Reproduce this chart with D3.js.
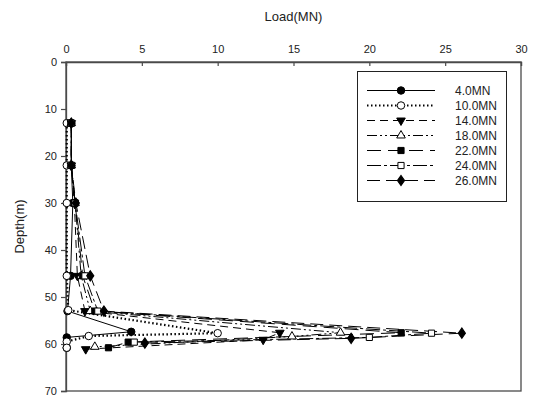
<!DOCTYPE html>
<html>
<head>
<meta charset="utf-8">
<script src="https://cdn.jsdelivr.net/npm/d3@7"></script>
<style>
  body { margin: 0; background: #fff; }
  svg { display: block; font-family: "Liberation Sans", Arial, sans-serif; }
</style>
</head>
<body>
<svg id="chart" width="537" height="397"></svg>
<script>
// Series names (legend labels)
const seriesNames = ['4.0MN', '10.0MN', '14.0MN', '18.0MN', '22.0MN', '24.0MN', '26.0MN'];

// Load values (MN) per series, paired with depths below
const load4  = [0.35, 0.35, 0.45, 0.3, 0.1, 4.3, 0.05, 0.05];
const depth4 = [13, 22, 30, 45.5, 53, 57.4, 58.6, 60.8];

const load10  = [0.05, 0.05, 0.05, 0.05, 0.15, 10.0, 1.5, 0.05, 0.05];
const depth10 = [13, 22, 30, 45.5, 52.8, 57.7, 58.3, 59.5, 60.8];

const load14  = [0.35, 0.35, 0.55, 0.75, 1.25, 14.1, 13.0, 1.3];
const depth14 = [13, 22, 30, 45.5, 53, 57.6, 59.1, 61.1];

const load18  = [0.35, 0.35, 0.6, 1.0, 1.6, 18.1, 14.9, 1.9];
const depth18 = [13, 22, 30, 45.5, 53, 57.6, 58.4, 60.6];

const load22  = [0.35, 0.35, 0.6, 1.1, 1.9, 22.1, 4.1, 2.8];
const depth22 = [13, 22, 30, 45.5, 53, 57.6, 59.6, 60.8];

const load24  = [0.35, 0.35, 0.6, 1.25, 2.1, 24.1, 20.0, 4.5];
const depth24 = [13, 22, 30, 45.5, 53, 57.7, 58.6, 59.6];

const load26  = [0.35, 0.35, 0.65, 1.6, 2.5, 26.1, 18.8, 5.2];
const depth26 = [13, 22, 30, 45.5, 53, 57.7, 58.8, 59.8];

const xTicks = [0, 5, 10, 15, 20, 25, 30];
const yTicks = [0, 10, 20, 30, 40, 50, 60, 70];

const loads = [load4, load10, load14, load18, load22, load24, load26];
const depths = [depth4, depth10, depth14, depth18, depth22, depth24, depth26];

const styles = [
  { dash: null,                 width: 1,   marker: 'circle',   fill: '#000' },
  { dash: '1.5,2.5',            width: 2.2, marker: 'circle',   fill: '#fff' },
  { dash: '8,5',                width: 1,   marker: 'triangleDown', fill: '#000' },
  { dash: '10,3,2,3,2,3',       width: 1,   marker: 'triangle', fill: '#fff' },
  { dash: '14,7',               width: 1,   marker: 'square',   fill: '#000' },
  { dash: '14,3,3,3',           width: 1,   marker: 'square',   fill: '#fff' },
  { dash: '13,6',               width: 1,   marker: 'diamond',  fill: '#000' }
];

const series = seriesNames.map((name, i) => ({
  name,
  style: styles[i],
  points: loads[i].map((v, j) => ({ load: v, depth: depths[i][j] }))
}));

const margin = { left: 66, right: 16, top: 62, bottom: 6 };
const width = 537, height = 397;
const svg = d3.select('#chart');

const xScale = d3.scaleLinear().domain([0, 30]).range([margin.left, width - margin.right]);
const yScale = d3.scaleLinear().domain([0, 70]).range([margin.top, height - margin.bottom]);

const axisColor = '#4a4a4a';

// frame
svg.append('rect')
  .attr('x', xScale(0)).attr('y', yScale(0))
  .attr('width', xScale(30) - xScale(0))
  .attr('height', yScale(70) - yScale(0))
  .attr('fill', 'none').attr('stroke', axisColor).attr('stroke-width', 1.3);

// top axis
const xAxis = svg.append('g')
  .attr('transform', `translate(0,${yScale(0)})`)
  .call(d3.axisTop(xScale).tickValues(xTicks).tickSize(-4).tickPadding(9).tickFormat(d3.format('d')));

// left axis
const yAxis = svg.append('g')
  .attr('transform', `translate(${xScale(0)},0)`)
  .call(d3.axisLeft(yScale).tickValues(yTicks).tickSize(5).tickPadding(4).tickFormat(d3.format('d')));

[xAxis, yAxis].forEach(g => {
  g.select('.domain').attr('stroke', axisColor).attr('stroke-width', 1.3);
  g.selectAll('.tick line').attr('stroke', axisColor).attr('stroke-width', 1.2);
  g.selectAll('.tick text').attr('fill', '#222').style('font-size', '11px');
});

svg.append('text')
  .attr('x', (xScale(0) + xScale(30)) / 2).attr('y', 21)
  .attr('text-anchor', 'middle').attr('fill', '#222')
  .style('font-size', '13px').text('Load(MN)');

svg.append('text')
  .attr('transform', `translate(24,${(yScale(0) + yScale(70)) / 2}) rotate(-90)`)
  .attr('text-anchor', 'middle').attr('fill', '#222')
  .style('font-size', '13px').text('Depth(m)');

function markerPath(type) {
  const sym = {
    circle: d3.symbol(d3.symbolCircle, 44),
    triangle: d3.symbol(d3.symbolTriangle, 32),
    triangleDown: d3.symbol(d3.symbolTriangle, 32),
    square: d3.symbol(d3.symbolSquare, 38),
    diamond: d3.symbol(d3.symbolDiamond, 30)
  }[type];
  return sym();
}

function drawMarker(g, type, fill, x, y) {
  const rot = type === 'triangleDown' ? ' rotate(180)' : '';
  const sx = type === 'diamond' ? ' scale(1.2,1)' : '';
  g.append('path')
    .attr('d', markerPath(type))
    .attr('transform', `translate(${x},${y})${rot}${sx}`)
    .attr('fill', fill)
    .attr('stroke', '#000')
    .attr('stroke-width', 1);
}

const line = d3.line().x(d => xScale(d.load)).y(d => yScale(d.depth));

const plot = svg.append('g');

series.forEach(s => {
  plot.append('path')
    .datum(s.points)
    .attr('d', line)
    .attr('fill', 'none')
    .attr('stroke', '#000')
    .attr('stroke-width', s.style.width)
    .attr('stroke-dasharray', s.style.dash);
});

series.forEach(s => {
  const g = plot.append('g');
  s.points.forEach(p => drawMarker(g, s.style.marker, s.style.fill, xScale(p.load), yScale(p.depth)));
});

// legend
const legend = svg.append('g');
legend.append('rect')
  .attr('x', 357.5).attr('y', 71.5).attr('width', 149).attr('height', 130)
  .attr('fill', '#fff').attr('stroke', '#222').attr('stroke-width', 1);

series.forEach((s, i) => {
  const y = 90.5 + i * 15;
  legend.append('line')
    .attr('x1', 367).attr('x2', 435).attr('y1', y).attr('y2', y)
    .attr('stroke', '#000')
    .attr('stroke-width', s.style.width)
    .attr('stroke-dasharray', s.style.dash);
  drawMarker(legend, s.style.marker, s.style.fill, 401, y);
  legend.append('text')
    .attr('x', 455).attr('y', y + 4)
    .attr('fill', '#222')
    .style('font-size', '12px')
    .text(s.name);
});
</script>
</body>
</html>
